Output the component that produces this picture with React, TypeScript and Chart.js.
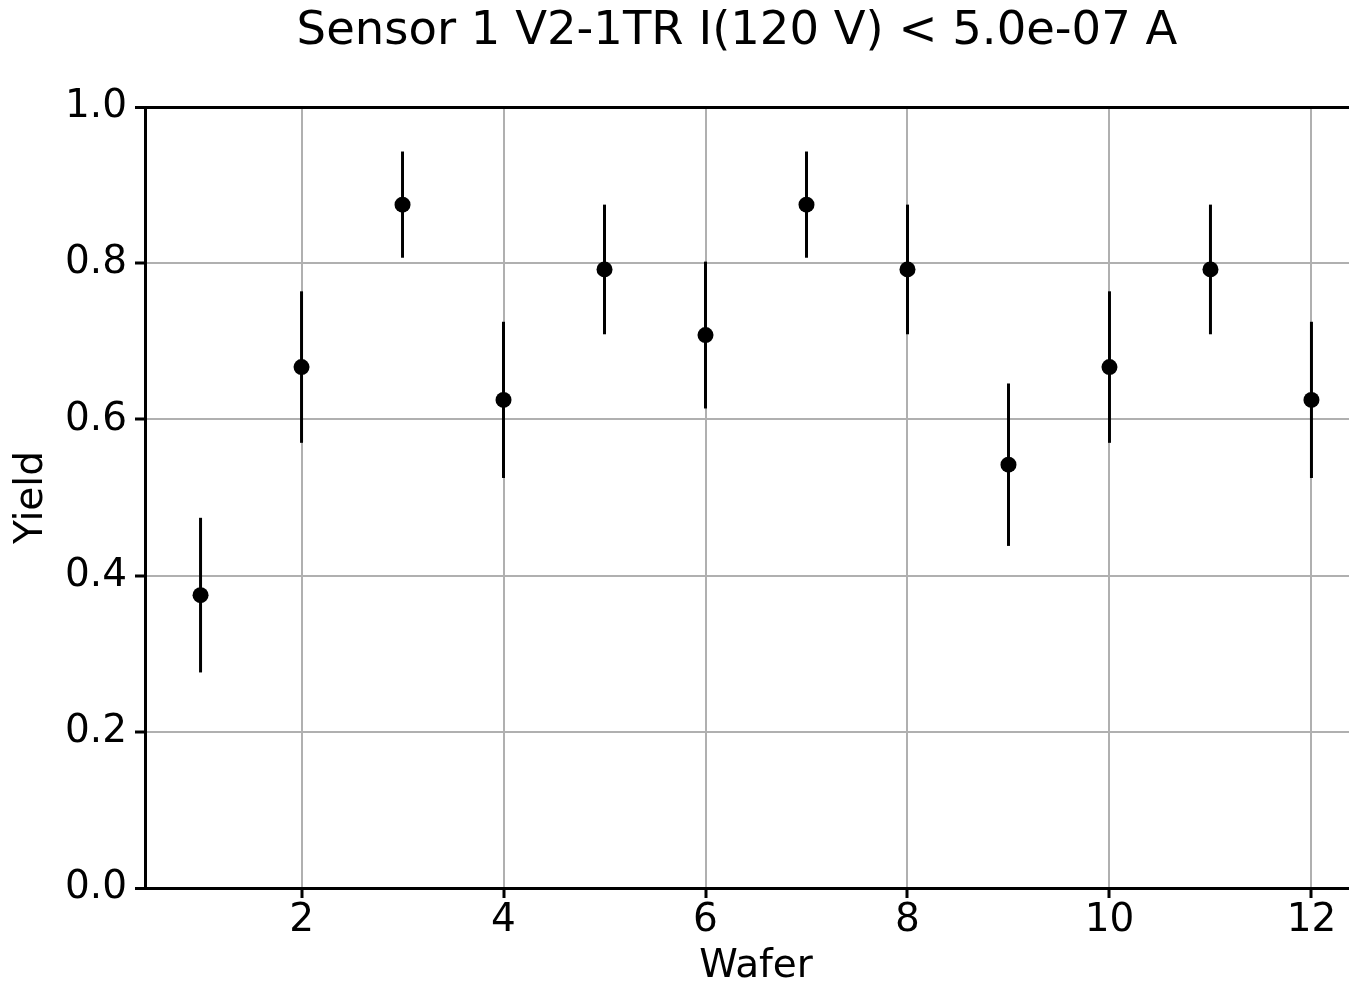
import React, { useEffect, useRef } from "react";
import { Chart, registerables } from "chart.js";

Chart.register(...registerables);

const TITLE = "Sensor 1 V2-1TR I(120 V) < 5.0e-07 A";
const X_LABEL = "Wafer";
const Y_LABEL = "Yield";
const wafers = [1, 2, 3, 4, 5, 6, 7, 8, 9, 10, 11, 12];
const yieldValues = [0.375, 0.667, 0.875, 0.625, 0.792, 0.708, 0.875, 0.792, 0.542, 0.667, 0.792, 0.625];
const yieldErrors = [0.099, 0.097, 0.068, 0.1, 0.083, 0.094, 0.068, 0.083, 0.104, 0.097, 0.083, 0.1];
const xTicks = [2, 4, 6, 8, 10, 12];
const yTicks = [0.0, 0.2, 0.4, 0.6, 0.8, 1.0];
const X_MIN = 0.45;
const X_MAX = 12.55;

const FONT = "'DejaVu Sans', sans-serif";
const GRID = "#b0b0b0";

const CANVAS_W = 1476;
const CANVAS_H = 986;

const errorBarPlugin = {
  id: "errorBars",
  beforeDatasetsDraw(chart: any) {
    const { ctx } = chart;
    const x = chart.scales.x;
    const y = chart.scales.y;
    ctx.save();
    ctx.strokeStyle = "#000";
    ctx.lineWidth = 3;
    wafers.forEach((w, i) => {
      const px = x.getPixelForValue(w);
      ctx.beginPath();
      ctx.moveTo(px, y.getPixelForValue(yieldValues[i] - yieldErrors[i]));
      ctx.lineTo(px, y.getPixelForValue(yieldValues[i] + yieldErrors[i]));
      ctx.stroke();
    });
    ctx.restore();
  },
};

export default function App() {
  const ref = useRef<HTMLCanvasElement | null>(null);

  useEffect(() => {
    if (!ref.current) return;
    const chart = new Chart(ref.current, {
      type: "scatter",
      data: {
        datasets: [
          {
            data: wafers.map((w, i) => ({ x: w, y: yieldValues[i] })),
            backgroundColor: "#000",
            borderColor: "#000",
            borderWidth: 0,
            pointRadius: 8,
            pointHoverRadius: 8,
          },
        ],
      },
      options: {
        responsive: false,
        animation: false,
        devicePixelRatio: 1,
        layout: { padding: { left: 0, right: 2, top: 0, bottom: 0 } },
        plugins: {
          legend: { display: false },
          tooltip: { enabled: false },
          title: {
            display: true,
            text: TITLE,
            color: "#000",
            font: { family: FONT, size: 46.5, weight: "normal", lineHeight: 1.2 },
            padding: { top: 4, bottom: 47.2 },
          },
        },
        scales: {
          x: {
            type: "linear",
            position: "bottom",
            min: X_MIN,
            max: X_MAX,
            afterBuildTicks: (scale: any) => {
              scale.ticks = xTicks.map((v) => ({ value: v }));
            },
            afterFit: (scale: any) => {
              scale.height = 98;
            },
            ticks: {
              color: "#000",
              font: { family: FONT, size: 39, lineHeight: 1 },
              padding: 3,
              maxRotation: 0,
              autoSkip: false,
              callback: (v: any) => String(v),
            },
            grid: {
              color: GRID,
              lineWidth: 2,
              drawTicks: true,
              tickLength: 10,
              tickColor: "#000",
              tickWidth: 3,
            },
            border: { display: true, color: "#000", width: 3 },
            title: {
              display: true,
              text: X_LABEL,
              color: "#000",
              font: { family: FONT, size: 39, lineHeight: 1 },
              padding: { top: 0, bottom: 0 },
            },
          },
          y: {
            type: "linear",
            position: "left",
            min: 0,
            max: 1,
            afterBuildTicks: (scale: any) => {
              scale.ticks = yTicks.map((v) => ({ value: v }));
            },
            afterFit: (scale: any) => {
              scale.width = 145;
            },
            ticks: {
              color: "#000",
              font: { family: FONT, size: 39, lineHeight: 1 },
              padding: 8,
              autoSkip: false,
              callback: (v: any) => Number(v).toFixed(1),
            },
            grid: {
              color: (ctx: any) =>
                ctx.tick && (ctx.tick.value === 1 || ctx.tick.value === 0) ? "#000" : GRID,
              lineWidth: (ctx: any) =>
                ctx.tick && (ctx.tick.value === 1 || ctx.tick.value === 0) ? 3 : 2,
              drawTicks: true,
              tickLength: 10,
              tickColor: "#000",
              tickWidth: 3,
            },
            border: { display: true, color: "#000", width: 3 },
            title: {
              display: true,
              text: Y_LABEL,
              color: "#000",
              font: { family: FONT, size: 39, lineHeight: 1 },
              padding: { top: 12, bottom: 0 },
            },
          },
          spacer: {
            type: "linear",
            position: "right",
            display: true,
            ticks: { display: false },
            grid: { display: false, drawTicks: false },
            border: { display: false },
            title: { display: false },
            afterFit: (scale: any) => {
              scale.width = 107;
            },
          },
        },
      } as any,
      plugins: [errorBarPlugin],
    });
    return () => chart.destroy();
  }, []);

  return (
    <div
      style={{
        position: "fixed",
        left: 0,
        top: 0,
        width: 1349,
        height: 986,
        overflow: "hidden",
        background: "#fff",
      }}
    >
      <canvas
        ref={ref}
        width={CANVAS_W}
        height={CANVAS_H}
        style={{ width: CANVAS_W, height: CANVAS_H, display: "block" }}
      />
    </div>
  );
}
